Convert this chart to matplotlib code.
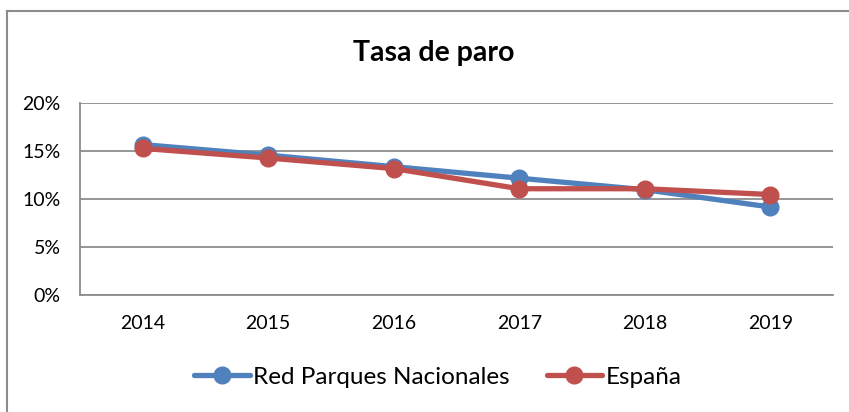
import matplotlib
matplotlib.use("Agg")
import matplotlib.pyplot as plt
from matplotlib.lines import Line2D
from matplotlib.ticker import FuncFormatter

plt.rcParams['font.family'] = ['Lato', 'DejaVu Sans']

years = ["2014", "2015", "2016", "2017", "2018", "2019"]
red_parques = [15.7, 14.6, 13.4, 12.2, 11.0, 9.2]
espana = [15.3, 14.3, 13.2, 11.1, 11.1, 10.5]

W, H = 849, 412
fig = plt.figure(figsize=(W / 100, H / 100), dpi=100)
ax = fig.add_axes([80 / W, (H - 295.3) / H, (833 - 80) / W, (295.3 - 103.3) / H])

x = list(range(len(years)))
blue = '#4F81BD'
red = '#C0504D'
ax.plot(x, red_parques, color=blue, lw=3.8, marker='o', ms=12, label='Red Parques Nacionales', solid_capstyle='round')
ax.plot(x, espana, color=red, lw=3.8, marker='o', ms=12, label='España', solid_capstyle='round')

ax.set_xlim(-0.5, len(years) - 0.5)
ax.set_ylim(0, 20)
ax.set_yticks([0, 5, 10, 15, 20])
ax.yaxis.set_major_formatter(FuncFormatter(lambda v, p: f"{int(v)}%"))
ax.set_xticks(x)
ax.set_xticklabels(years)
ax.tick_params(axis='both', length=0, labelsize=14, colors='black')
ax.tick_params(axis='y', pad=14)
ax.tick_params(axis='x', pad=14)
ax.grid(axis='y', color='#8c8c8c', lw=1.3)
ax.set_axisbelow(True)
for s in ['top', 'right']:
    ax.spines[s].set_visible(False)
for s in ['left', 'bottom']:
    ax.spines[s].set_color('#8c8c8c')
    ax.spines[s].set_linewidth(1.3)

fig.text(434 / W, 1 - 53 / H, 'Tasa de paro', ha='center', va='center', fontsize=20.5, fontweight='bold')

leg = fig.legend(loc='center', bbox_to_anchor=(438 / W, 1 - 377 / H), ncol=2, frameon=False,
                 fontsize=17.5, handlelength=2.3, handletextpad=0.15, columnspacing=1.5)

# outer border (top and left visible)
fig.add_artist(Line2D([6.5 / W, 1.0], [1 - 10.5 / H, 1 - 10.5 / H], transform=fig.transFigure, color='#8c8c8c', lw=1.5))
fig.add_artist(Line2D([6.5 / W, 6.5 / W], [0, 1 - 10.5 / H], transform=fig.transFigure, color='#8c8c8c', lw=1.5))

fig.savefig('out.png', dpi=100)
